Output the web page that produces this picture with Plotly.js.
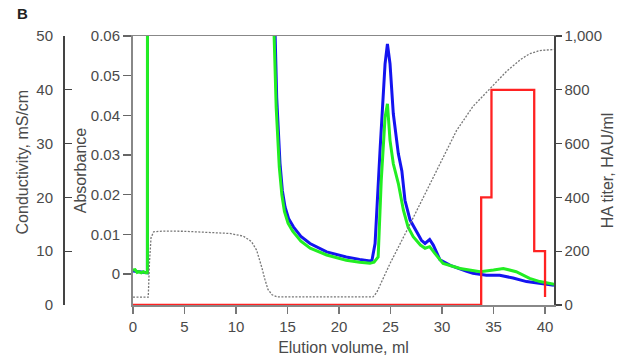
<!DOCTYPE html>
<html>
<head>
<meta charset="utf-8">
<script src="https://cdn.plot.ly/plotly-3.0.1.min.js"></script>
<style>html,body{margin:0;padding:0;background:#fff;}#chart{width:629px;height:358px;}</style>
</head>
<body>
<div id="chart"></div>
<script>
// Elution volume (ml) and absorbance, blue trace
const blueX = [0, 0.5, 1.0, 1.4, 1.5, 5, 10, 13.5, 13.8, 13.95, 14.1, 14.27, 14.5, 14.76, 15.1, 15.57, 16.3, 17.18, 18.8, 20.7, 22.0, 23.0, 23.2, 23.5, 24.0, 24.47, 24.7, 24.95, 25.27, 25.76, 26.1, 26.4, 26.9, 27.5, 28.0, 28.35, 28.8, 29.15, 29.8, 30.8, 31.4, 32.4, 33.0, 34.3, 35.6, 36.9, 38.2, 39.5, 40.87];
const blueY = [0.0008, 0.0006, 0.0004, 0.0003, 1.0, 1.0, 1.0, 0.12, 0.06, 0.0445, 0.035, 0.0279, 0.021, 0.0169, 0.0140, 0.0119, 0.0095, 0.0077, 0.0056, 0.0043, 0.0037, 0.0033, 0.0035, 0.0077, 0.032, 0.053, 0.058, 0.053, 0.0404, 0.0303, 0.026, 0.0186, 0.0136, 0.011, 0.0085, 0.0077, 0.0087, 0.0073, 0.0036, 0.0022, 0.0016, 0.0007, 0.0002, -0.0003, -0.0003, -0.001, -0.0019, -0.0023, -0.0028];
// Absorbance, green trace
const greenX = [0, 0.2, 0.4, 0.6, 0.8, 1.0, 1.2, 1.4, 1.48, 5, 10, 13.4, 13.7, 13.9, 14.05, 14.2, 14.45, 14.7, 15.05, 15.5, 16.3, 17.2, 18.8, 20.7, 22.0, 23.0, 23.4, 23.8, 24.1, 24.47, 24.7, 24.95, 25.27, 25.76, 26.25, 26.7, 27.2, 27.9, 28.35, 28.8, 29.3, 30.1, 31.75, 33.7, 35.0, 35.95, 37.2, 38.5, 39.5, 40.87];
const greenY = [0.0010, 0.0011, 0.0004, 0.0006, 0.0003, 0.0006, 0.0003, 0.0003, 1.0, 1.0, 1.0, 0.12, 0.06, 0.042, 0.0335, 0.027, 0.0200, 0.0158, 0.0128, 0.0108, 0.0083, 0.0065, 0.0048, 0.0035, 0.003, 0.0027, 0.003, 0.0043, 0.0236, 0.0395, 0.0429, 0.0337, 0.0278, 0.0228, 0.0161, 0.0119, 0.0094, 0.0073, 0.0065, 0.0069, 0.0052, 0.0027, 0.0014, 0.0006, 0.001, 0.0014, 0.0006, -0.0011, -0.0019, -0.0026];
// Conductivity (mS/cm), grey dotted trace
const condX = [0, 1.48, 1.6, 1.75, 2.0, 2.94, 5, 8, 9.4, 10.7, 11.5, 12.0, 12.2, 12.5, 12.8, 13.1, 13.5, 14.0, 18, 23.3, 23.65, 24.2, 24.95, 26.6, 28.2, 29.8, 31.4, 33.0, 34.7, 36.3, 37.6, 38.5, 39.5, 40.87];
const condY = [1.45, 1.45, 8, 12.5, 13.6, 13.75, 13.7, 13.5, 13.3, 12.8, 11.8, 10.2, 9.0, 7.0, 4.8, 2.9, 1.9, 1.5, 1.5, 1.5, 2.3, 4.5, 7.7, 13.9, 20, 26.2, 32.4, 36.9, 40.4, 43.5, 45.6, 46.7, 47.3, 47.5];
// HA titer (HAU/ml), red step trace
const haX = [0, 33.8, 34.8, 38.95, 40.0];
const haY = [0, 400, 800, 200, 30];
// Tick labels
const absTicks = [0, 0.01, 0.02, 0.03, 0.04, 0.05, 0.06];
const absTickText = ["0", "0.01", "0.02", "0.03", "0.04", "0.05", "0.06"];
const condTicks = [0, 10, 20, 30, 40, 50];
const haTicks = [0, 200, 400, 600, 800, 1000];
const haTickText = ["0", "200", "400", "600", "800", "1,000"];
const xTicks = [0, 5, 10, 15, 20, 25, 30, 35, 40];

const FONT = 'Liberation Sans, Arial, sans-serif';
const TXT = '#4a4a4a';

const traces = [
  {x: condX, y: condY, yaxis: 'y2', mode: 'lines', line: {color: '#777', width: 1.3, dash: '2px,1.5px'}, hoverinfo: 'skip'},
  {x: haX, y: haY, yaxis: 'y3', mode: 'lines', line: {color: '#ff2222', width: 2.3, shape: 'hv'}, hoverinfo: 'skip'},
  {x: blueX, y: blueY, yaxis: 'y', mode: 'lines', line: {color: '#1414f0', width: 3}, hoverinfo: 'skip'},
  {x: greenX, y: greenY, yaxis: 'y', mode: 'lines', line: {color: '#22ee22', width: 3}, hoverinfo: 'skip'}
];

const L = 20, R = 75;
const paperW = 629 - L - R;
const layout = {
  width: 629, height: 358,
  margin: {l: L, r: R, t: 36, b: 53},
  paper_bgcolor: '#fff', plot_bgcolor: '#fff',
  showlegend: false,
  font: {family: FONT, size: 15, color: TXT},
  xaxis: {
    domain: [(133 - L) / paperW, 1],
    range: [0, 40.87],
    tickvals: xTicks,
    ticks: 'outside', ticklen: 7, tickwidth: 1.3, tickcolor: '#777',
    showline: true, linecolor: '#888', linewidth: 1.5, mirror: true,
    showgrid: false, zeroline: false,
    tickfont: {size: 15, color: TXT},
    title: {text: 'Elution volume, ml', font: {size: 16, color: TXT}, standoff: 8}
  },
  yaxis: {
    range: [-0.0078, 0.06],
    tickvals: absTicks, ticktext: absTickText,
    ticks: 'outside', ticklen: 8, tickwidth: 1.3, tickcolor: '#666',
    showline: true, linecolor: '#888', linewidth: 2,
    showgrid: false, zeroline: false,
    tickfont: {size: 15, color: TXT},
    title: {text: 'Absorbance', font: {size: 16, color: TXT}, standoff: 0}
  },
  yaxis2: {
    overlaying: 'y', anchor: 'free', side: 'left', position: (63 - L) / paperW,
    range: [0, 50],
    tickvals: condTicks,
    ticks: 'inside', ticklen: 7, tickwidth: 1.3, tickcolor: '#444',
    ticklabelstandoff: 7,
    showline: true, linecolor: '#444', linewidth: 1.5,
    showgrid: false, zeroline: false,
    tickfont: {size: 15, color: TXT}
  },
  yaxis3: {
    overlaying: 'y', anchor: 'x', side: 'right',
    range: [0, 1000],
    tickvals: haTicks, ticktext: haTickText,
    ticks: 'outside', ticklen: 6, tickwidth: 1.3, tickcolor: '#444',
    showline: true, linecolor: '#444', linewidth: 1.5,
    showgrid: false, zeroline: false,
    tickfont: {size: 15, color: TXT},
    title: {text: 'HA titer, HAU/ml', font: {size: 16, color: TXT}, standoff: 1}
  },
  annotations: [
    {text: '<b>B</b>', xref: 'paper', yref: 'paper', x: (15 - L) / paperW, y: (305 - 14) / 269,
     xanchor: 'left', yanchor: 'middle', showarrow: false, font: {family: FONT, size: 15, color: '#222'}},
    {text: 'Conductivity, mS/cm', xref: 'paper', yref: 'paper', x: (22 - L) / paperW, y: 0.53,
     xanchor: 'center', yanchor: 'middle', textangle: -90, showarrow: false, font: {family: FONT, size: 16, color: TXT}}
  ]
};

Plotly.newPlot('chart', traces, layout, {displayModeBar: false, staticPlot: true});
</script>
</body>
</html>
